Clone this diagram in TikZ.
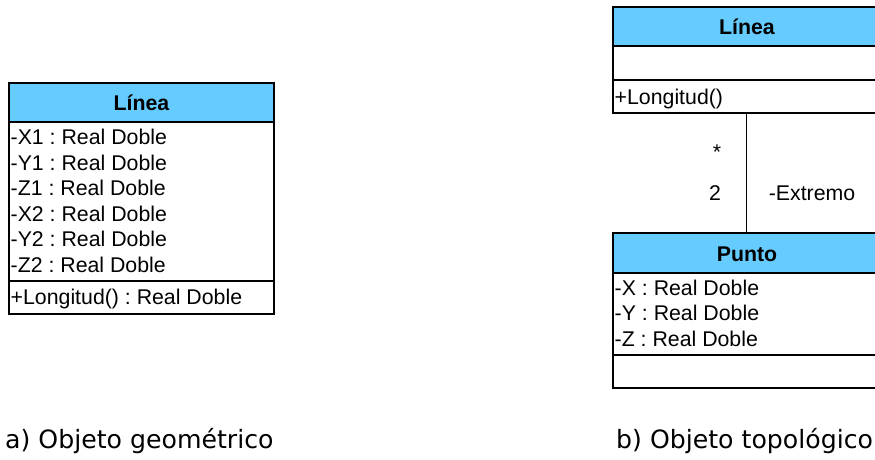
\documentclass[tikz,border=0pt]{standalone}
\usepackage{fontspec}
\setmainfont{Liberation Sans}
\newfontfamily\capfont{DejaVu Sans}
\definecolor{hdr}{HTML}{66CCFF}
\frenchspacing
\begin{document}
\begin{tikzpicture}[x=1pt,y=-1pt,
  box/.style={draw=black,line width=1.4pt},
  hdrbox/.style={fill=hdr},
  txt/.style={font=\fontsize{21.3}{25}\selectfont,inner sep=0pt},
  attr/.style={txt,anchor=base west},
  title/.style={txt,font=\fontsize{21.3}{25}\selectfont\bfseries,anchor=base},
  captxt/.style={font=\capfont\fontsize{25.2}{28}\selectfont,inner sep=0pt,anchor=base west}]
\useasboundingbox (0,0) rectangle (875,460);
\clip (0,0) rectangle (875,460);
% ---- a) left class
\fill[hdrbox] (9,83) rectangle (274,122);
\draw[box] (9,83) rectangle (274,314);
\draw[box] (9,122) -- (274,122);
\draw[box] (9,281) -- (274,281);
\node[title] (ltitle) at (141.5,110) {Línea};
\foreach \t [count=\i] in {-X1 : Real Doble,-Y1 : Real Doble,-Z1 : Real Doble,-X2 : Real Doble,-Y2 : Real Doble,-Z2 : Real Doble}
  \node[attr] (la\i) at (10.5,118.8+\i*25.6) {\t};
\node[attr] (lop) at (10.5,304.5) {+Longitud() : Real Doble};
% ---- b) right classes
\fill[hdrbox] (613,7) rectangle (881,46);
\draw[box] (613,7) rectangle (881,113);
\draw[box] (613,46) -- (881,46);
\draw[box] (613,80) -- (881,80);
\node[title] (rtitle) at (747,34.5) {Línea};
\node[attr] (rop) at (614.5,104.5) {+Longitud()};
\coordinate (linbot) at (746,113);
\fill[hdrbox] (613,233) rectangle (881,273);
\draw[box] (613,233) rectangle (881,388);
\draw[box] (613,273) -- (881,273);
\draw[box] (613,355) -- (881,355);
\node[title] (ptitle) at (747,261.5) {Punto};
\foreach \t [count=\i] in {-X : Real Doble,-Y : Real Doble,-Z : Real Doble}
  \node[attr] (pa\i) at (614.5,269.6+\i*25.6) {\t};
\coordinate (punttop) at (746,233);
\draw[line width=1pt] (linbot) -- (punttop);
\node[txt] (mstar) at (717,152) {*};
\node[txt] (mtwo) at (715,193) {2};
\node[txt] (role) at (812,193) {-Extremo};
% ---- captions
\node[captxt] (capa) at (5,448) {a) Objeto geométrico};
\node[captxt] (capb) at (616,448) {b) Objeto topológico};
\end{tikzpicture}
\end{document}
